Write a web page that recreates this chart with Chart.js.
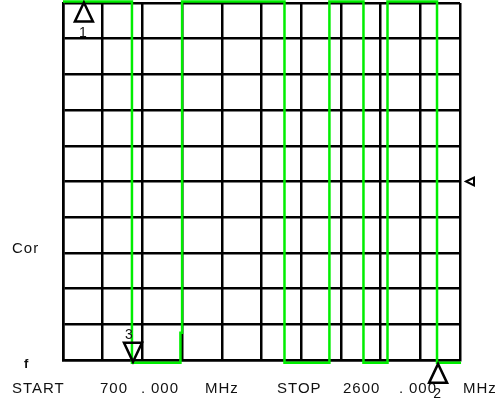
<!DOCTYPE html>
<html lang="en">
<head>
    <meta charset="UTF-8">
    <title>Analyzer trace</title>
    <script src="https://cdn.jsdelivr.net/npm/chart.js"></script>
    <style>
        body { margin: 0; background: #fff; }
        #wrap { width: 500px; height: 403px; }
    </style>
</head>
<body>
    <div id="wrap">
        <canvas id="trace" width="500" height="403"></canvas>
    </div>

    <script>
        // sweep range (MHz)
        const xStart = 700;
        const xStop = 2600;
        const xStep = 190;

        // trace, in MHz and in grid divisions (0..10)
        const traceFreq  = [700, 1030, 1030, 1262, 1262, 1270, 1270, 1760, 1760, 1975, 1975, 2138, 2138, 2253, 2253, 2490, 2490, 2605];
        const traceLevel = [10.04, 10.04, -0.08, -0.08, 0.76, 0.76, 10.04, 10.04, -0.08, -0.08, 10.04, 10.04, -0.08, -0.08, 10.04, 10.04, -0.08, -0.08];

        // markers: number, frequency, level, direction
        const markerNum   = ['1', '2', '3'];
        const markerFreq  = [800, 2495, 1035];
        const markerLevel = [10.04, -0.08, -0.08];
        const markerDir   = ['up', 'up', 'down'];

        const refLevel = 5; // little reference arrow on the right side

        const green = '#00ee00';
        const ink = '#111';

        const points = traceFreq.map((f, i) => ({ x: f, y: traceLevel[i] }));

        const overlay = {
            id: 'overlay',
            afterDraw(chart) {
                const c = chart.ctx;
                const xs = chart.scales.x, ys = chart.scales.y;
                const area = chart.chartArea;
                c.save();

                // marker triangles
                c.strokeStyle = '#000';
                c.lineWidth = 2.5;
                c.lineJoin = 'miter';
                c.font = '14px "Liberation Sans", Arial, sans-serif';
                c.textAlign = 'center';
                markerNum.forEach((n, i) => {
                    const px = xs.getPixelForValue(markerFreq[i]);
                    const py = ys.getPixelForValue(markerLevel[i]);
                    const w = 9, h = 20;
                    c.beginPath();
                    if (markerDir[i] === 'up') {
                        c.moveTo(px, py + 1);
                        c.lineTo(px - w, py + h);
                        c.lineTo(px + w, py + h);
                    } else {
                        c.moveTo(px, py - 1);
                        c.lineTo(px - w, py - h);
                        c.lineTo(px + w, py - h);
                    }
                    c.closePath();
                    c.fillStyle = '#fff';
                    if (markerDir[i] === 'up' && markerLevel[i] < 1) c.fill();
                    c.stroke();
                    c.fillStyle = ink;
                    if (markerDir[i] === 'up') c.fillText(n, px - 1, py + h + 15);
                    else c.fillText(n, px - 4, py - h - 4);
                });

                // reference level arrow (points left)
                const ry = ys.getPixelForValue(refLevel);
                const rx = area.right + 6;
                c.lineWidth = 2;
                c.beginPath();
                c.moveTo(rx, ry);
                c.lineTo(rx + 8, ry - 4);
                c.lineTo(rx + 8, ry + 4);
                c.closePath();
                c.fillStyle = '#fff';
                c.fill();
                c.stroke();

                // texts
                c.fillStyle = ink;
                c.textAlign = 'left';
                c.textBaseline = 'alphabetic';
                c.font = '15px "Liberation Sans", Arial, sans-serif';
                c.letterSpacing = '1px';
                c.fillText('Cor', 12, 253);
                c.fillText('START', 12, 393);
                c.fillText(String(xStart), 100, 393);
                c.fillText('.', 141, 393);
                c.fillText('000', 151, 393);
                c.fillText('MHz', 205, 393);
                c.fillText('STOP', 277, 393);
                c.fillText(String(xStop), 343, 393);
                c.fillText('.', 399, 393);
                c.fillText('000', 409, 393);
                c.fillText('MHz', 463, 393);

                c.font = 'bold 13px "Liberation Sans", Arial, sans-serif';
                c.letterSpacing = '0px';
                c.fillText('f', 24, 368);
                c.restore();
            }
        };

        function desenharTrace() {
            const ctx = document.getElementById('trace').getContext('2d');
            const gridOpts = { color: '#000', lineWidth: 2.5, drawTicks: false };
            const borderOpts = { display: true, color: '#000', width: 2.5 };

            new Chart(ctx, {
                type: 'line',
                data: {
                    datasets: [{
                        data: points,
                        borderColor: green,
                        borderWidth: 2.5,
                        pointRadius: 0,
                        tension: 0,
                        clip: false
                    }]
                },
                options: {
                    responsive: false,
                    animation: false,
                    layout: { padding: { left: 63, right: 40, top: 3, bottom: 43 } },
                    plugins: {
                        legend: { display: false },
                        tooltip: { enabled: false }
                    },
                    scales: {
                        x: {
                            type: 'linear',
                            min: xStart,
                            max: xStop,
                            ticks: { display: false, stepSize: xStep },
                            grid: gridOpts,
                            border: borderOpts
                        },
                        y: {
                            min: 0,
                            max: 10,
                            ticks: { display: false, stepSize: 1 },
                            grid: gridOpts,
                            border: borderOpts
                        }
                    }
                },
                plugins: [overlay]
            });
        }

        desenharTrace();
    </script>
</body>
</html>
